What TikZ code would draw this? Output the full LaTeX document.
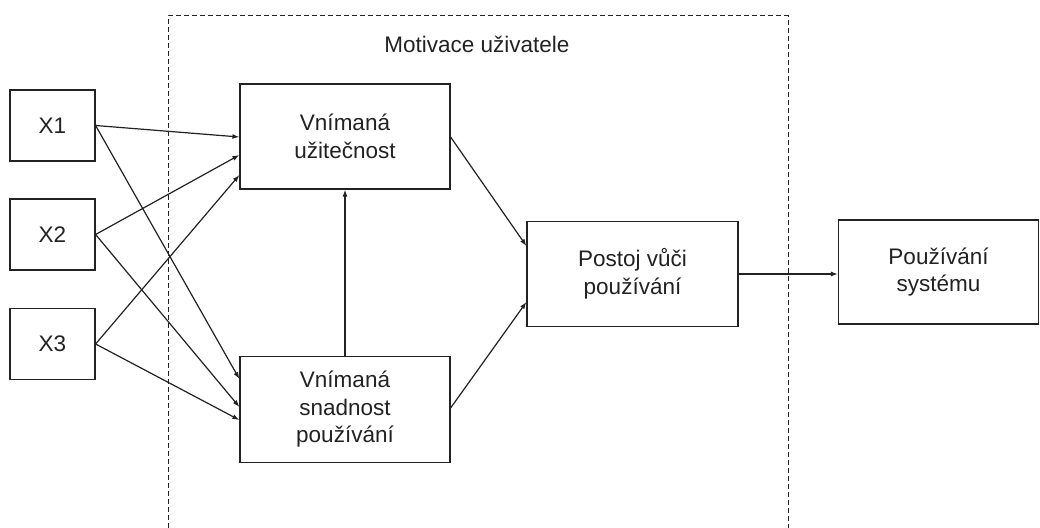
\documentclass[tikz,border=0pt]{standalone}
\usepackage{fontspec}
\setmainfont{Liberation Sans}
\usetikzlibrary{arrows.meta}
\definecolor{ink}{HTML}{222222}
\tikzset{
  box/.style={draw=ink, line width=1.2pt, fill=white, inner sep=0pt, align=center, font=\fontsize{22.5}{27.5}\selectfont, text=ink},
  conn/.style={draw=ink, line width=1.2pt, -{Latex[length=7pt,width=5pt]}},
  frame/.style={draw=ink, line width=1pt, dash pattern=on 5pt off 3pt}
}
\begin{document}
\begin{tikzpicture}[x=1pt,y=-1pt]
\useasboundingbox (0,0) rectangle (1040,527);
\begin{scope}
\clip (0,0) rectangle (1040,527);
\draw[frame] (168,560) -- (168,16) -- (788,16) -- (788,560);
\end{scope}
\node[font=\fontsize{22.5}{27.5}\selectfont, text=ink] (title) at (477,44) {Motivace uživatele};
\node[box, minimum width=85pt, minimum height=71pt] (x1) at (52.5,125.5) {X1};
\node[box, minimum width=85pt, minimum height=71pt] (x2) at (52.5,234.5) {X2};
\node[box, minimum width=85pt, minimum height=71pt] (x3) at (52.5,344) {X3};
\node[box, minimum width=210pt, minimum height=105pt] (vu) at (345,136.5) {Vnímaná\\užitečnost};
\node[box, minimum width=210pt, minimum height=106pt] (vs) at (345,409.5) {Vnímaná\\snadnost\\používání};
\node[box, minimum width=211pt, minimum height=105pt] (po) at (632.5,274) {Postoj vůči\\používání};
\node[box, minimum width=200pt, minimum height=104pt] (ps) at (938.5,272) {Používání\\systému};
\draw[conn] (x1.east) -- (vu.west |- 0,137);
\draw[conn] (x2.east) -- (vu.west |- 0,155);
\draw[conn] (x3.east) -- (vu.west |- 0,175);
\draw[conn] (x1.east) -- (vs.west |- 0,379);
\draw[conn] (x2.east) -- (vs.west |- 0,407);
\draw[conn] (x3.east) -- (vs.west |- 0,420);
\draw[conn] (vs.north) -- (vu.south);
\draw[conn] (vu.east |- 0,137) -- (po.west |- 0,246);
\draw[conn] (vs.east |- 0,408) -- (po.west |- 0,302);
\draw[conn] (po.east |- 0,274) -- (ps.west |- 0,274);
\end{tikzpicture}
\end{document}
